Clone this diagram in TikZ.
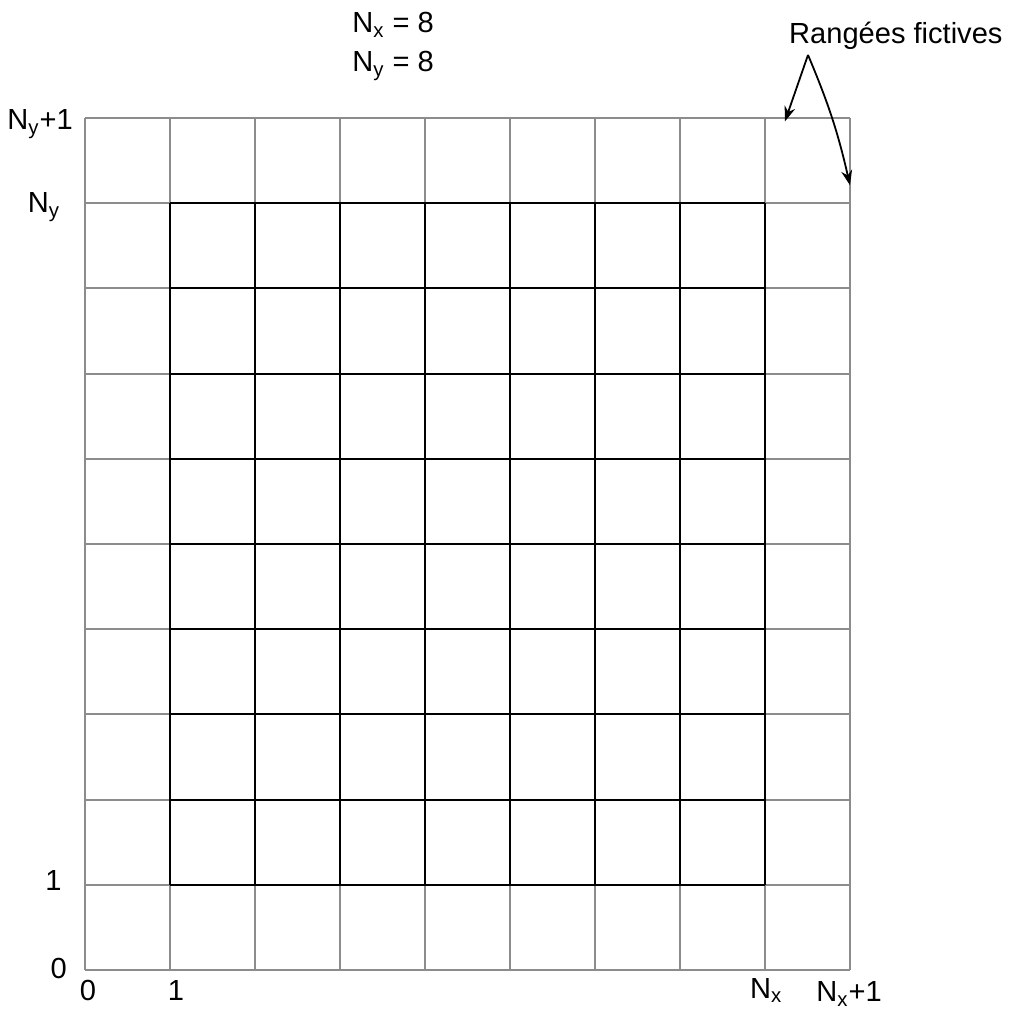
\documentclass[tikz,border=0pt]{standalone}
\usepackage{fontspec}
\setmainfont{Liberation Sans}
\definecolor{gridgray}{RGB}{140,140,140}
\definecolor{darktext}{RGB}{0,0,0}
\usetikzlibrary{arrows.meta,positioning}

\begin{document}
\begin{tikzpicture}[x=1.5cm,y=1.5035cm,
    lbl/.style={inner sep=0pt,text=darktext,font=\fontsize{14.6}{17.5}\selectfont},
    ghostline/.style={draw=gridgray,line width=1pt},
    realline/.style={draw=black,line width=1pt},
    pointer/.style={draw=black,line width=0.9pt,-{Stealth[length=7.5pt,width=5.5pt]}}]
  \useasboundingbox (-1,-0.493) rectangle (10.906,11.385);

  % Full grid with ghost rows
  \foreach \i in {0,...,9}
    \draw[ghostline] (\i,0) -- (\i,10);
  \foreach \j in {0,...,10}
    \draw[ghostline] (0,\j) -- (9,\j);

  % Interior grid
  \foreach \i in {1,...,8}
    \draw[realline] (\i,1) -- (\i,9);
  \foreach \j in {1,...,9}
    \draw[realline] (1,\j) -- (8,\j);

  % Left labels
  \node[lbl,anchor=base east] (nyp) at (-0.14,9.86) {N\textsubscript{y}+1};
  \node[lbl,anchor=base east] (ny) at (-0.29,8.885) {N\textsubscript{y}};
  \node[lbl,anchor=base east] (yone) at (-0.27,0.927) {1};
  \node[lbl,anchor=base east] (yzero) at (-0.21,-0.106) {0};

  % Bottom labels
  \node[lbl,anchor=base] (xzero) at (0.035,-0.364) {0};
  \node[lbl,anchor=base] (xone) at (1.07,-0.364) {1};
  \node[lbl,anchor=base west] (nx) at (7.82,-0.33) {N\textsubscript{x}};
  \node[lbl,anchor=base west] (nxp) at (8.6,-0.376) {N\textsubscript{x}+1};

  % Sizes
  \node[lbl,anchor=base west] (sizex) at (3.14,11.0) {N\textsubscript{x} = 8};
  \node[lbl,anchor=base west] (sizey) at (3.14,10.54) {N\textsubscript{y} = 8};

  % Ghost rows pointer
  \node[lbl,anchor=base west] (fict) at (8.28,10.87) {Rangées fictives};
  \coordinate (apex) at (8.506,10.74);
  \coordinate (tiptop) at (8.235,9.96);
  \coordinate (tipright) at (9.0,9.21);
  \draw[pointer] (apex) -- (tiptop);
  \draw[pointer] (apex) to[bend left=5] (tipright);
\end{tikzpicture}
\end{document}
